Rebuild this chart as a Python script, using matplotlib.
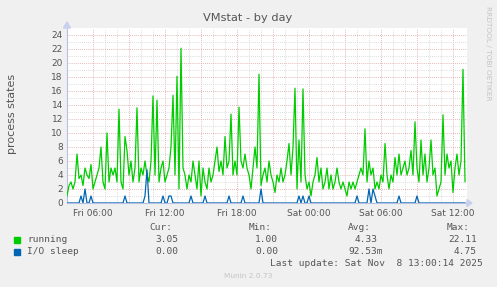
import matplotlib.pyplot as plt
import numpy as np
from matplotlib.patches import Polygon

# munin vmstat "by day" graph, 10 min steps, hours counted from Fri 00:00
start_hour = 3.8333
step_hour = 1 / 6.0

running = [1, 2.5, 3, 2, 3, 7, 3.5, 4, 2.5, 5,
           4, 3.5, 5.5, 2, 3, 4, 5, 8, 3, 2,
           10, 3, 5, 4, 5, 3, 13.4, 3, 2, 9.5,
           7.5, 4, 6, 3, 5, 13.6, 3, 5, 4, 6,
           4, 3, 6, 15.3, 4, 14.7, 3, 5, 6, 3,
           4, 5, 8, 15.4, 4, 18.1, 2, 22.11, 5, 4,
           2, 4, 3, 6, 4, 2, 6, 1, 5, 3,
           2, 5, 3, 4, 6, 8, 4.5, 6, 4, 9.5,
           5, 6, 12.7, 4, 6, 4, 13.7, 6, 5, 7,
           5, 4, 2, 5, 8, 5, 18.4, 2.5, 4, 5,
           3, 6, 4, 3, 1.5, 4, 3, 5, 3, 4,
           6, 8.5, 4, 8, 16.4, 2, 9, 3, 16.3, 4,
           2, 3, 1, 3, 4, 6.5, 3, 5, 2, 3,
           5, 2, 4, 2, 3, 5, 3, 2, 3, 2,
           1, 3, 2, 3, 2, 3, 4, 5, 4, 10.6,
           3, 6, 4, 5, 2, 3, 2, 4, 3, 8.5,
           4, 2, 4, 3, 6.5, 4, 7, 4, 5, 6,
           4, 5, 7.5, 4, 11.6, 5, 3, 9, 4, 7,
           3, 5, 9, 4, 5, 1, 2, 3, 12.6, 4,
           7, 5, 6, 1.5, 5, 7, 4, 6, 19.1, 3.05]

io_sleep = [0, 0, 0, 0, 0, 0, 0, 1, 0, 2,
            0, 0, 1, 0, 0, 0, 0, 0, 0, 0,
            0, 0, 0, 0, 0, 0, 0, 0, 0, 1,
            0, 0, 0, 0, 0, 0, 0, 0, 0, 1,
            4.75, 0, 0, 0, 0, 0, 0, 0, 1, 0,
            0, 1, 1, 0, 0, 0, 0, 0, 0, 0,
            0, 0, 1, 0, 0, 0, 0, 0, 0, 1,
            0, 0, 0, 0, 0, 0, 0, 0, 0, 0,
            0, 1, 0, 0, 0, 0, 0, 0, 1, 0,
            0, 0, 0, 0, 0, 0, 0, 2, 0, 0,
            0, 0, 0, 0, 0, 0, 0, 0, 0, 0,
            0, 0, 0, 0, 0, 0, 1, 0, 1, 0,
            0, 1, 0, 0, 0, 0, 0, 0, 0, 0,
            0, 0, 0, 0, 0, 0, 0, 0, 0, 0,
            0, 0, 0, 0, 0, 1, 0, 0, 0, 0,
            0, 2, 0, 2, 1, 0, 0, 0, 0, 0,
            0, 0, 0, 0, 0, 0, 1, 0, 0, 0,
            0, 0, 0, 0, 0, 1, 0, 0, 0, 0,
            0, 0, 0, 0, 0, 0, 0, 0, 0, 0,
            0, 0, 0, 0, 0, 0, 0, 0, 0, 0]

tick_hours = [6, 12, 18, 24, 30, 36]
tick_names = ["Fri 06:00", "Fri 12:00", "Fri 18:00", "Sat 00:00", "Sat 06:00", "Sat 12:00"]

legend_rows = [("running", "#00CC00", ["3.05", "1.00", "4.33", "22.11"]),
               ("I/O sleep", "#0066B3", ["0.00", "0.00", "92.53m", "4.75"])]

W, H = 497, 287
txt = "#555555"

fig = plt.figure(figsize=(W / 100, H / 100), dpi=100, facecolor="#F0F0F0")
ax = fig.add_axes([67 / W, (H - 203) / H, 400 / W, 175 / H])
ax.set_facecolor("white")

t = start_hour + np.arange(len(running)) * step_hour
ax.plot(t, running, color="#00CC00", lw=0.9, zorder=3)
ax.plot(t, io_sleep, color="#0066B3", lw=0.9, zorder=4)

ax.set_xlim(start_hour, start_hour + 400 / 12.0)
ax.set_ylim(0, 25)

# grid: minor every hour / 1 unit, major every 3h / 2 units
ax.set_xticks(np.arange(6, 37, 1), minor=True)
ax.set_xticks(np.arange(6, 37, 3))
ax.set_xticklabels([tick_names[tick_hours.index(h)] if h in tick_hours else ""
                    for h in range(6, 37, 3)])
ax.set_yticks(np.arange(0, 25, 1), minor=True)
ax.set_yticks(np.arange(0, 25, 2))
ax.grid(which="minor", color="#D0D0D0", ls=(0, (1, 1.5)), lw=0.6)
ax.grid(which="major", color="#DDA0A0", ls=(0, (1, 1.5)), lw=0.6)
ax.set_axisbelow(True)
ax.tick_params(which="both", length=0, labelsize=6.5, labelcolor=txt, pad=3)
ax.tick_params(axis="x", pad=4)

for s in ["top", "right"]:
    ax.spines[s].set_visible(False)
for s in ["left", "bottom"]:
    ax.spines[s].set_color("#B8C0E0")
    ax.spines[s].set_linewidth(0.8)

def fx(x):
    return x / W

def fy(y):
    return (H - y) / H

fig.add_artist(Polygon([(fx(467), fy(199.5)), (fx(467), fy(206.5)), (fx(472), fy(203))],
                       closed=True, color="#C8D0F0", transform=fig.transFigure))
fig.add_artist(Polygon([(fx(63.5), fy(28)), (fx(70.5), fy(28)), (fx(67), fy(22))],
                       closed=True, color="#C8D0F0", transform=fig.transFigure))

fig.text(fx(248), fy(18), "VMstat - by day", ha="center", va="center", fontsize=8.2, color=txt)
fig.text(fx(12), fy(114), "process states", rotation=90, ha="center", va="center",
         fontsize=8, color=txt)
fig.text(fx(488), fy(53), "RRDTOOL / TOBI OETIKER", rotation=270, ha="center", va="center",
         fontsize=5.3, color="#C4C4C4")

mono = "DejaVu Sans Mono"
fs = 6.8
for label, x in zip(["Cur:", "Min:", "Avg:", "Max:"], [172, 272, 371, 470]):
    fig.text(fx(x), fy(227), label, ha="right", va="center", family=mono, fontsize=fs, color=txt)

val_right = [178, 278, 378, 477]
for r, (name, col, vals) in enumerate(legend_rows):
    y = 240 + 12 * r
    fig.add_artist(plt.Rectangle((fx(14), fy(y + 3)), 6 / W, 6 / H, color=col,
                                 transform=fig.transFigure))
    fig.text(fx(27), fy(y), name, ha="left", va="center", family=mono, fontsize=fs, color=txt)
    for v, x in zip(vals, val_right):
        xr = x + 5 if v.endswith("m") else x
        fig.text(fx(xr), fy(y), v, ha="right", va="center", family=mono, fontsize=fs, color=txt)

fig.text(fx(483), fy(263), "Last update: Sat Nov  8 13:00:14 2025", ha="right", va="center",
         family=mono, fontsize=fs, color=txt)
fig.text(fx(248), fy(276), "Munin 2.0.73", ha="center", va="center", fontsize=5.3, color="#C4C4C4")

fig.savefig("out.png", dpi=100, facecolor=fig.get_facecolor())
